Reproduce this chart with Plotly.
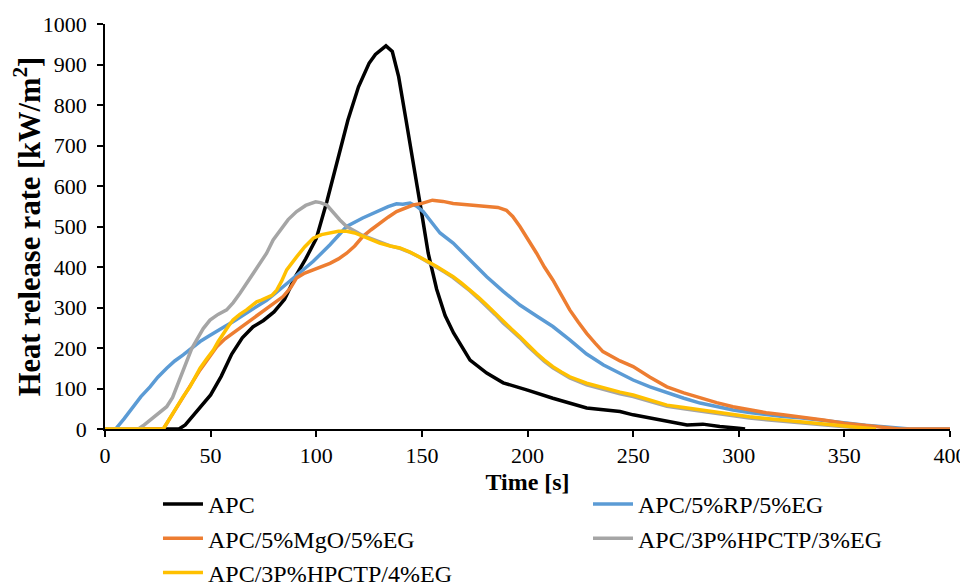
import plotly.graph_objects as go

# APC
t_apc = [0, 35, 38, 42, 46, 50, 55, 60, 65, 70, 75, 80, 85, 90, 95, 100, 105, 110, 115, 120,
         125, 128, 131, 133, 136, 139, 142.5, 145, 147.8, 150, 153, 157, 161, 165, 172.8, 180.7,
         188.5, 200, 212, 228, 243.8, 250, 258, 266, 275.5, 283, 291, 300, 303]
v_apc = [0, 0, 10, 35, 62, 84, 130, 185, 225, 252, 268, 289, 320, 375, 420, 470, 561, 664, 763, 845,
         903, 925, 938, 946, 932, 870, 763, 690, 598, 530, 434, 345, 280, 237, 170, 138,
         114, 96, 76, 52, 43, 35, 27, 18, 10, 12, 6, 2, 0]

# APC/5%RP/5%EG
t_rp = [0, 5, 9, 13.4, 17, 21.3, 25, 29.2, 33, 37, 41, 45, 49, 52.9, 56.7, 60.6, 64.6, 68.6, 72.5,
        76.5, 80.4, 84.3, 88.3, 92.3, 98.6, 106.5, 114.4, 122, 130, 134, 138, 141, 144.4, 147.5,
        150.6, 154.6, 158.6, 164.8, 172.8, 180.7, 188.5, 196.4, 204.3, 212, 220, 228, 236, 243.8,
        250, 258, 266, 274, 281.7, 289.5, 297.3, 305, 313, 321, 329, 340, 350, 360, 370, 381, 400]
v_rp = [0, 0, 25, 55, 80, 104, 128, 150, 168, 183, 200, 216, 229, 240, 253, 265, 278, 290, 304,
        318, 334, 351, 368, 385, 414, 455, 500, 521, 541, 549, 556, 555, 558, 550,
        537, 512, 484, 459, 416, 376, 340, 306, 279, 253, 220, 185, 158, 137,
        121, 104, 89, 76, 64, 55, 47, 41, 35, 31, 28, 21, 14, 9, 5, 0, 0]

# APC/5%MgO/5%EG
t_mgo = [0, 27.6, 30, 33, 37, 41, 45, 49, 52.9, 56.7, 60.6, 64.6, 68.6, 72.5, 76.5, 80.4, 84.3, 88,
         90.7, 94.6, 98.6, 102.5, 106.5, 110.5, 114.4, 118.2, 122, 126, 130, 134, 138, 142, 145.8,
         150, 155, 160, 164.8, 172.8, 180.7, 186, 190, 193, 196.4, 200.3, 204.3, 208, 212, 216, 220,
         224, 228, 232, 235.7, 243.8, 250, 258, 266, 274, 281.7, 289.5, 297.3, 305, 313, 321, 329,
         340, 350, 360, 368, 376, 400]
v_mgo = [0, 0, 20, 45, 80, 113, 146, 175, 203, 222, 237, 253, 269, 284, 298, 312, 327, 350,
         373, 385, 393, 400, 409, 420, 434, 452, 475, 492, 508, 523, 537, 546, 553,
         557, 565, 562, 557, 553, 550, 547, 540, 525, 500, 468, 434, 400, 368, 331, 294,
         264, 236, 212, 191, 168, 154, 128, 104, 89, 76, 65, 55, 47, 40, 35, 30,
         22, 14, 8, 3, 0, 0]

# APC/3P%HPCTP/3%EG
t_h3 = [0, 15.8, 18, 21.3, 25, 29.2, 32, 34, 36.5, 38.7, 41, 43.4, 46.5, 49.7, 53.5, 57.6, 60.7,
        63.9, 67, 70.1, 73.3, 76.5, 79.6, 82.8, 86.7, 90.7, 95, 99.7, 102, 105, 108, 111.2, 114.4,
        117.5, 122, 126, 130, 135, 139.6, 144.4, 149, 153, 157, 160.9, 164.8, 168.8, 172.8, 176.8,
        180.7, 184.6, 188.5, 192.4, 196.4, 200.3, 204.3, 208, 212, 216, 220, 228, 234.3, 243.8,
        250, 258, 266, 274, 281.7, 289.5, 297.3, 305, 313, 321, 329, 340, 350, 358, 364]
v_h3 = [0, 0, 8, 22, 38, 55, 78, 104, 138, 170, 198, 220, 248, 269, 283, 294, 312,
        335, 360, 385, 410, 434, 467, 491, 517, 537, 552, 561, 559, 553, 535, 516, 500,
        491, 478, 470, 462, 452, 446, 436, 424, 412, 399, 387, 374, 358, 341, 322,
        303, 283, 262, 244, 225, 204, 184, 167, 151, 138, 126, 109, 100, 87,
        80, 67, 56, 50, 44, 38, 32, 27, 23, 19, 15, 10, 5, 2, 0]

# APC/3P%HPCTP/4%EG
t_h4 = [0, 27.6, 30.5, 34, 37, 40.2, 42.6, 45, 48, 51.3, 53.6, 56, 58.3, 60.6, 63.8, 67, 69.4,
        71.8, 74, 76.5, 79, 81.3, 83.6, 86, 88.4, 90.7, 94.6, 98.6, 102.5, 106.5, 110.5, 114.4,
        118.2, 122, 126, 130, 135, 139.6, 144.4, 149, 153, 157, 160.9, 164.8, 168.8, 172.8, 176.8,
        180.7, 184.6, 188.5, 192.4, 196.4, 200.3, 204.3, 208, 212, 216, 220, 228, 234.3, 243.8,
        250, 258, 266, 274, 281.7, 289.5, 297.3, 305, 313, 321, 329, 340, 350, 358, 365]
v_h4 = [0, 0, 25, 55, 80, 104, 127, 150, 172, 195, 216, 237, 253, 269, 283, 294, 305,
        314, 318, 323, 330, 343, 365, 393, 410, 425, 450, 471, 480, 485, 488, 488,
        484, 476, 468, 459, 452, 447, 437, 425, 413, 401, 389, 376, 360, 343, 325,
        306, 286, 265, 247, 228, 207, 187, 170, 154, 141, 129, 113, 104, 91,
        84, 71, 59, 53, 47, 41, 35, 30, 26, 22, 18, 12, 7, 3, 0]

# name, time, value, colour, legend column
series = [
    ("APC", t_apc, v_apc, "#000000", "legend"),
    ("APC/5%RP/5%EG", t_rp, v_rp, "#5B9BD5", "legend2"),
    ("APC/5%MgO/5%EG", t_mgo, v_mgo, "#ED7D31", "legend"),
    ("APC/3P%HPCTP/3%EG", t_h3, v_h3, "#A5A5A5", "legend2"),
    ("APC/3P%HPCTP/4%EG", t_h4, v_h4, "#FFC000", "legend"),
]

FONT = "Liberation Serif, Times New Roman, serif"

fig = go.Figure()
for name, t, v, color, leg in series:
    fig.add_trace(go.Scatter(x=t, y=v, name=name, mode="lines", legend=leg,
                             line=dict(color=color, width=3.5)))

leg_style = dict(orientation="v", xanchor="left", y=-0.1309, yanchor="top",
                 font=dict(size=24), tracegroupgap=0, itemwidth=40,
                 bgcolor="rgba(0,0,0,0)")

# page body adds an 8px offset, so the figure is 960x576
fig.update_layout(
    width=960, height=576,
    margin=dict(l=97, r=18, t=16, b=155, autoexpand=False),
    paper_bgcolor="white", plot_bgcolor="white",
    font=dict(family=FONT, size=22, color="black"),
    showlegend=True,
    legend=dict(x=0.0627, **leg_style),
    legend2=dict(x=0.5716, **leg_style),
    xaxis=dict(range=[0, 400], dtick=50, showgrid=False, zeroline=False,
               showline=True, linecolor="black", linewidth=1.5,
               ticks="outside", ticklen=6, tickwidth=1.5, tickcolor="black",
               title=dict(text="<b>Time [s]</b>", font=dict(size=24), standoff=6)),
    yaxis=dict(range=[0, 1000], dtick=100, showgrid=False, zeroline=False,
               showline=True, linecolor="black", linewidth=1.5,
               ticks="outside", ticklen=6, tickwidth=1.5, tickcolor="black",
               ticklabelstandoff=6,
               title=dict(text="<b>Heat release rate [kW/m<sup>2</sup>]</b>",
                          font=dict(size=30.5), standoff=8)),
)

fig.write_html("out.html")
